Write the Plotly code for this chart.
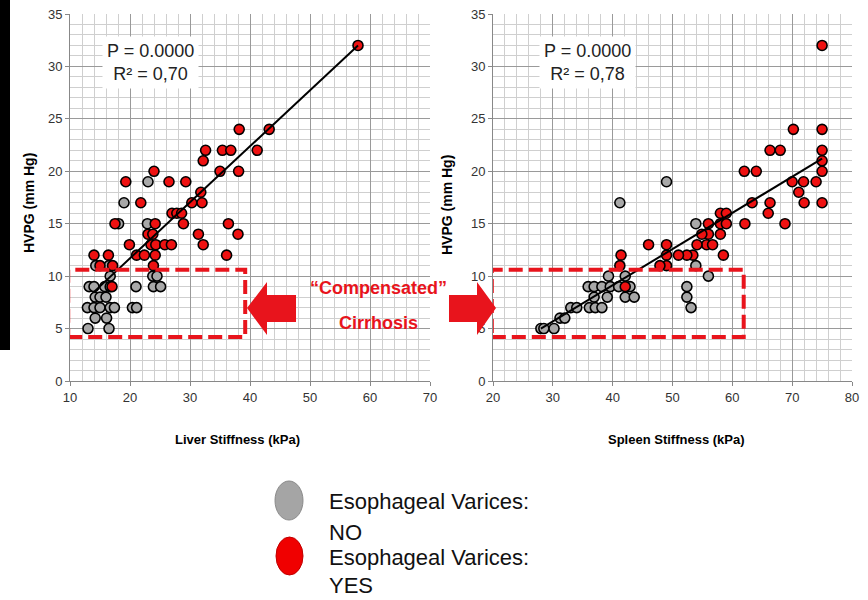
import plotly.graph_objects as go

# ---------------- data ----------------
liver_yes_x = [58, 43.2, 38.2, 41.2, 35.4, 36.8, 32.6, 32.2, 35, 38.1, 24, 19.3, 26.5, 29.3, 31.8,
               21.8, 30.3, 32, 27, 27.8, 28.6, 17.5, 24.2, 28.9, 36.4, 23, 23.8, 31.4, 38,
               19.9, 23.5, 24.3, 25.8, 26.9, 32.2, 14, 16.4, 21.1, 22.4, 24.2, 36.1, 15, 17.1, 23.9, 17]
liver_yes_y = [32, 24, 24, 22, 22, 22, 22, 21, 20, 20, 20, 19, 19, 19, 18,
               17, 17, 17, 16, 16, 16, 15, 15, 15, 15, 14, 14, 14, 14,
               13, 13, 13, 13, 13, 13, 12, 12, 12, 12, 12, 12, 11, 11, 11, 9]
liver_no_x = [23, 19, 18.1, 22.9, 14.3, 16.5, 16.7, 23.8, 24.5, 13.2, 14, 15.8, 16.7, 23.9, 25.1, 21,
              14.2, 15, 16, 12.9, 14, 15, 16.7, 17.4, 20.4, 21.1, 14.2, 16.1, 13, 16.5]
liver_no_y = [19, 17, 15, 15, 11, 11, 10, 10, 10, 9, 9, 9, 9, 9, 9, 9,
              8, 8, 8, 7, 7, 7, 7, 7, 7, 7, 6, 6, 5, 5]

spleen_yes_x = [75, 70.2, 75, 66.3, 68, 75, 75, 62, 64, 75, 70, 71.9, 74, 71.1, 63.3, 66.3, 72, 75,
                66, 58, 59, 68.8, 62.1, 58, 59, 56, 58, 56, 54.9, 55.7, 56.7, 54.1, 49, 46,
                58.5, 53.4, 52.4, 51, 49, 41.4, 49, 47.9, 41.2, 42.1]
spleen_yes_y = [32, 24, 24, 22, 22, 22, 21, 20, 20, 20, 19, 19, 19, 18, 17, 17, 17, 17,
                16, 16, 16, 15, 15, 15, 15, 15, 14, 14, 14, 13, 13, 13, 13, 13,
                12, 12, 12, 12, 12, 12, 11, 11, 11, 9]
spleen_no_x = [49, 41.2, 53.9, 53.9, 56, 39.3, 42.1, 35.9, 36.9, 38.2, 39.6, 41, 42.9, 52.4,
               36.9, 39.1, 42.1, 43.6, 52.4, 33, 34, 36.1, 37.1, 38.2, 53.1, 31.2, 32, 28, 28.5, 30.2]
spleen_no_y = [19, 17, 15, 11, 10, 10, 10, 9, 9, 9, 9, 9, 9, 9,
               8, 8, 8, 8, 8, 7, 7, 7, 7, 7, 7, 6, 6, 5, 5, 5]

liver_trend_x = [14, 58]
liver_trend_y = [8.5, 32]
spleen_trend_x = [28, 75]
spleen_trend_y = [5, 21.2]

liver_stats = "P = 0.0000<br>R² = 0,70"
spleen_stats = "P = 0.0000<br>R² = 0,78"

W, H = 868, 600
def PX(x): return x / W
def PY(y): return 1 - y / H

FONT = "Liberation Sans, Arial, sans-serif"
GRAY = "#a8a8a8"
RED = "#ee1111"
DRED = "#e8141c"

fig = go.Figure()

def add_pts(x, y, color, xa, ya):
    fig.add_trace(go.Scatter(x=x, y=y, mode="markers", xaxis=xa, yaxis=ya, showlegend=False,
                             marker=dict(size=10, color=color, line=dict(color="black", width=1.6))))

def add_line(x, y, xa, ya):
    fig.add_trace(go.Scatter(x=x, y=y, mode="lines", xaxis=xa, yaxis=ya, showlegend=False,
                             line=dict(color="black", width=2)))

add_pts(liver_no_x, liver_no_y, GRAY, "x", "y")
add_pts(liver_yes_x, liver_yes_y, RED, "x", "y")
add_line(liver_trend_x, liver_trend_y, "x", "y")
add_pts(spleen_no_x, spleen_no_y, GRAY, "x2", "y2")
add_pts(spleen_yes_x, spleen_yes_y, RED, "x2", "y2")
add_line(spleen_trend_x, spleen_trend_y, "x2", "y2")

tickfont = dict(family=FONT, size=13, color="#333333")
def xax(dom, rng, anchor):
    return dict(domain=dom, range=rng, dtick=10, tick0=rng[0], showgrid=True, gridcolor="#9a9a9a",
                gridwidth=1, zeroline=False, showline=True, linecolor="#888888", linewidth=1,
                ticks="outside", ticklen=4, tickcolor="#888888", tickfont=tickfont, anchor=anchor,
                minor=dict(dtick=2, showgrid=True, gridcolor="#cfcfcf", gridwidth=1),
                automargin=False, fixedrange=True)
def yax(anchor):
    return dict(domain=[PY(381), PY(14)], range=[0, 35], dtick=5, tick0=0, showgrid=True,
                gridcolor="#9a9a9a", gridwidth=1, zeroline=False, showline=True, linecolor="#888888",
                ticks="outside", ticklen=4, tickcolor="#888888", tickfont=tickfont, anchor=anchor,
                minor=dict(dtick=1, showgrid=True, gridcolor="#cfcfcf", gridwidth=1),
                automargin=False, fixedrange=True)

shapes = []
# black strip at left edge of slide
shapes.append(dict(type="rect", xref="paper", yref="paper", x0=0, x1=PX(10), y0=PY(350), y1=1,
                   fillcolor="black", line=dict(width=0), layer="above"))
# dashed boxes
for xr, yr, x0, x1 in [("x", "y", 9.7, 39.2), ("x2", "y2", 19.8, 61.9)]:
    shapes.append(dict(type="rect", xref=xr, yref=yr, x0=x0, x1=x1, y0=4.2, y1=10.6,
                       line=dict(color=DRED, width=4, dash="14px,6px"), layer="above"))
# arrows
def arrow_path(pts):
    return "M " + " L ".join(f"{PX(x):.5f},{PY(y):.5f}" for x, y in pts) + " Z"
left_arrow = [(247, 308), (267, 282), (267, 295), (296, 295), (296, 322), (267, 322), (267, 335)]
right_arrow = [(496, 308), (477, 282), (477, 295), (449, 295), (449, 322), (477, 322), (477, 335)]
for pts in (left_arrow, right_arrow):
    shapes.append(dict(type="path", xref="paper", yref="paper", path=arrow_path(pts),
                       fillcolor=DRED, line=dict(width=0), layer="above"))
# legend bullets
shapes.append(dict(type="circle", xref="paper", yref="paper", x0=PX(275), x1=PX(303), y0=PY(520), y1=PY(481),
                   fillcolor="#a5a5a5", line=dict(color="#8a8a8a", width=1)))
shapes.append(dict(type="circle", xref="paper", yref="paper", x0=PX(276), x1=PX(303), y0=PY(575), y1=PY(537),
                   fillcolor="#f00000", line=dict(color="#c00000", width=1)))

ann = []
def txt(x, y, t, size, color="black", bold=False, angle=0, xanchor="center", **kw):
    if bold:
        t = "<b>" + t + "</b>"
    d = dict(x=PX(x), y=PY(y), xref="paper", yref="paper", text=t, showarrow=False, textangle=angle,
             font=dict(family=FONT, size=size, color=color), xanchor=xanchor, yanchor="middle")
    d.update(kw)
    ann.append(d)

txt(238, 440, "Liver Stiffness (kPa)", 13, bold=True)
txt(676, 440, "Spleen Stiffness (kPa)", 13, bold=True)
txt(29, 203, "HVPG (mm Hg)", 14, bold=True, angle=-90)
txt(447, 205, "HVPG (mm Hg)", 14, bold=True, angle=-90)
txt(150, 63, liver_stats, 18, color="#222222", bgcolor="white", borderpad=4)
txt(587, 63, spleen_stats, 18, color="#222222", bgcolor="white", borderpad=4)
txt(378, 288, "“Compensated”", 18, color=DRED, bold=True)
txt(378, 323, "Cirrhosis", 18, color=DRED, bold=True)
txt(327, 501, "Esophageal Varices:", 22, color="#111111", xanchor="left")
txt(327, 532, "NO", 22, color="#111111", xanchor="left")
txt(327, 557, "Esophageal Varices:", 22, color="#111111", xanchor="left")
txt(327, 585, "YES", 22, color="#111111", xanchor="left")

fig.update_layout(
    width=W, height=H, margin=dict(l=0, r=0, t=0, b=0, autoexpand=False),
    paper_bgcolor="white", plot_bgcolor="white",
    xaxis=xax([PX(70), PX(430)], [10, 70], "y"),
    yaxis=yax("x"),
    xaxis2=xax([PX(493), PX(852)], [20, 80], "y2"),
    yaxis2=yax("x2"),
    shapes=shapes, annotations=ann, showlegend=False,
)

fig.write_html("out.html", config={"displayModeBar": False})
